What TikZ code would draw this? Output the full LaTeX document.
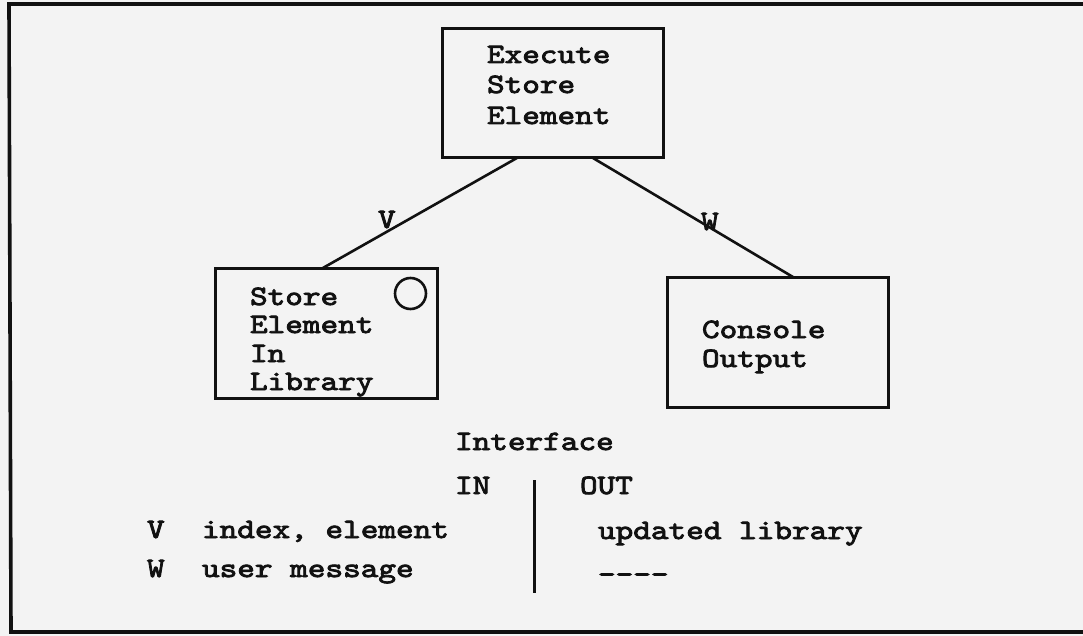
\documentclass[tikz,border=0pt]{standalone}
\usepackage{fontspec}
% typewriter face: Latin Modern Mono, widened and darkened
\newfontfamily\tw{lmmono10-regular.otf}[FakeStretch=1.2,FakeBold=3]
\usetikzlibrary{calc}
\definecolor{paper}{HTML}{F3F3F3}
\definecolor{ink}{HTML}{111111}
\begin{document}
\begin{tikzpicture}[x=1pt,y=-1pt,
  box/.style={draw=ink, line width=3pt, inner sep=0pt, outer sep=0pt, anchor=north west},
  txt/.style={anchor=base west, inner sep=0pt, outer sep=0pt, text=ink,
              font=\tw\fontsize{28}{30}\selectfont},
  link/.style={draw=ink, line width=2.6pt},
  frame/.style={draw=ink, line width=3.6pt}]

% page and outer frame (right edge runs off the sheet)
\useasboundingbox (0,0) rectangle (1083,636);
\fill[paper] (0,0) rectangle (1083,636);
\clip (0,0) rectangle (1083,636);
\draw[frame] (1100,4) -- (9,4) -- (11,632) -- (1100,632);

% module boxes
\node[box, minimum width=221pt, minimum height=129pt] (top) at (442,29) {};
\node[box, minimum width=222pt, minimum height=130pt] (lib) at (215,268) {};
\node[box, minimum width=221pt, minimum height=130pt] (con) at (667,277) {};

% box captions
\node[txt] (t1) at (487,63) {Execute};
\node[txt] (t2) at (487,93) {Store};
\node[txt] (t3) at (487,124) {Element};

\node[txt] (l1) at (250,305) {Store};
\node[txt] (l2) at (250,333) {Element};
\node[txt] (l3) at (250,362) {In};
\node[txt] (l4) at (250,390) {Library};
\node[draw=ink, line width=2.6pt, circle, minimum size=31pt, inner sep=0pt] (mark) at (410.5,293.5) {};

\node[txt] (c1) at (702,338) {Console};
\node[txt] (c2) at (702,367) {Output};

% connectors
\coordinate (vs) at ($(top.south west)!0.339!(top.south east)$);
\coordinate (ve) at ($(lib.north west)!0.486!(lib.north east)$);
\coordinate (ws) at ($(top.south west)!0.683!(top.south east)$);
\coordinate (we) at ($(con.north west)!0.57!(con.north east)$);
\draw[link] (vs) -- (ve);
\draw[link] (ws) -- (we);
\node[txt] (lv) at (378,228) {V};
\node[txt] (lw) at (701,230) {W};

% interface table
\node[txt] (ih) at (455,450) {Interface};
\node[txt] (iin) at (455,494) {IN};
\node[txt] (iout) at (580,494) {OUT};
\coordinate (bt) at (534,480);
\coordinate (bb) at (534,593);
\draw[draw=ink, line width=3pt] (bt) -- (bb);

\node[txt] (rv) at (147,538) {V};
\node[txt] (rvin) at (202,538) {index, element};
\node[txt] (rvout) at (598,539) {updated library};
\node[txt] (rw) at (147,577) {W};
\node[txt] (rwin) at (202,577) {user message};
\node[txt] (rwout) at (598,583) {----};
\end{tikzpicture}
\end{document}
